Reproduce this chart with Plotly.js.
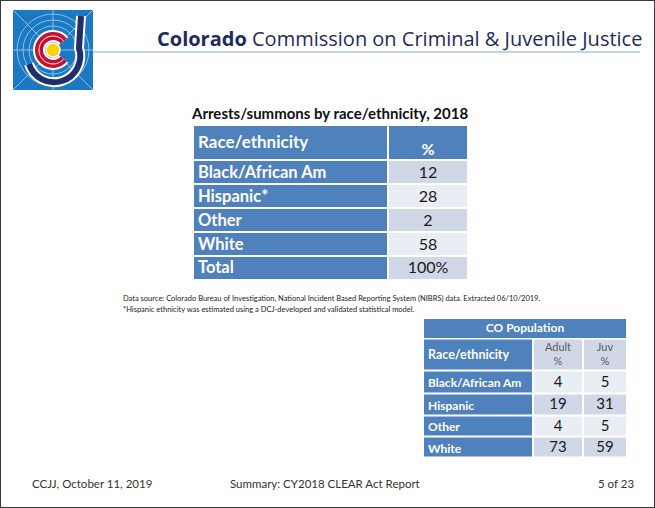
<!DOCTYPE html>
<html><head><meta charset="utf-8">
<script src="https://cdn.plot.ly/plotly-3.0.1.min.js"></script>
<style>html,body{margin:0;padding:0;background:#fff;} #chart{width:655px;height:508px;}</style>
</head><body><div id="chart"></div>
<script>
// ---- data ----
const arrestTitle = 'Arrests/summons by race/ethnicity, 2018';
const arrestHeaders = ['Race/ethnicity', '%'];
const arrestCategories = ['Black/African Am', 'Hispanic*', 'Other', 'White', 'Total'];
const arrestPercents = [12, 28, 2, 58, 100];

const popTitle = 'CO Population';
const popHeaders = ['Race/ethnicity', 'Adult<br>%', 'Juv<br>%'];
const popCategories = ['Black/African Am', 'Hispanic', 'Other', 'White'];
const popAdult = [4, 19, 4, 73];
const popJuv = [5, 31, 5, 59];

// ---- styling / geometry (page pixels) ----
const W = 655, H = 508;
const px = x => x / W;
const py = y => 1 - y / H;
const BLUE = '#4F81BD', DARK = '#D0D8E8', LIGHT = '#E9EDF4';
const FONT = 'Lato, "Open Sans", sans-serif';
const b = s => '<b>' + s + '</b>';
const cum = (start, arr) => arr.reduce((acc, v) => (acc.push(acc[acc.length - 1] + v), acc), [start]);
const mids = e => e.slice(0, -1).map((v, i) => (v + e[i + 1]) / 2);
const SCALE = [[0, BLUE], [0.5, DARK], [1, LIGHT]];

function grid(xEdges, yEdges, z) {
  return {type: 'heatmap', x: xEdges, y: yEdges, z, zmin: 0, zmax: 2, colorscale: SCALE,
          showscale: false, xgap: 2, ygap: 2, hoverinfo: 'skip', zsmooth: false};
}
function txt(x, y, text, pos, size, color, weightless) {
  return {type: 'scatter', mode: 'text', x, y, text, textposition: pos, hoverinfo: 'skip',
          cliponaxis: false, textfont: {family: FONT, size, color}};
}

// Table 1
const t1x = cum(193, [195, 80]);
const t1y = cum(125, [35, 24, 24, 24, 24, 23.5]);
const t1z = [[0, 0]].concat(arrestCategories.map((_, i) => [0, i % 2 ? 2 : 1]));
const t1mx = mids(t1x), t1my = mids(t1y);
const arrestValueText = arrestPercents.map((v, i) => i === arrestPercents.length - 1 ? v + '%' : String(v));
const rowsY1 = t1my.slice(1).map(v => v + 1.5);

// Table 2
const t2x = cum(423, [110, 50, 44]);
const t2titleY = cum(318, [20.5]);
const t2y = cum(338.5, [32, 22.5, 22, 21.5, 21]);
const t2z = [[0, 1, 1]].concat(popCategories.map((_, i) => [0, i % 2 ? 1 : 2, i % 2 ? 1 : 2]));
const t2mx = mids(t2x), t2my = mids(t2y);

const data = [
  grid(t1x, t1y, t1z),
  grid([t2x[0], t2x[t2x.length - 1]], t2titleY, [[0]]),
  grid(t2x, t2y, t2z),
  // table 1 texts
  txt([t1x[0] + 5], [t1my[0] + 1], [b(arrestHeaders[0])], 'middle right', 17, 'white'),
  txt([t1mx[1]], [t1my[0] + 8], [b(arrestHeaders[1])], 'middle center', 16, 'white'),
  txt(arrestCategories.map(() => t1x[0] + 5), rowsY1, arrestCategories.map(b), 'middle right', 16.5, 'white'),
  txt(arrestCategories.map(() => t1mx[1]), rowsY1, arrestValueText, 'middle center', 16, '#1a1a1a'),
  // table 2 texts
  txt([(t2x[0] + t2x[t2x.length - 1]) / 2], [mids(t2titleY)[0] + 1], [b(popTitle)], 'middle center', 12, 'white'),
  txt([t2x[0] + 5], [t2my[0] + 1], [b(popHeaders[0])], 'middle right', 12.5, 'white'),
  txt([t2mx[1], t2mx[2]], [t2my[0] + 1, t2my[0] + 1], [popHeaders[1], popHeaders[2]], 'middle center', 11, '#595959'),
  txt(popCategories.map(() => t2x[0] + 5), t2my.slice(1).map(v => v + 2.5), popCategories.map(b), 'middle right', 12, 'white'),
  txt(popCategories.map(() => t2mx[1]), t2my.slice(1).map(v => v + 1), popAdult.map(String), 'middle center', 15, '#1a1a1a'),
  txt(popCategories.map(() => t2mx[2]), t2my.slice(1).map(v => v + 1), popJuv.map(String), 'middle center', 15, '#1a1a1a')
];

const logoSvg = "<svg xmlns='http://www.w3.org/2000/svg' viewBox='0 0 80 80' width='80' height='80'>" +
  "<rect width='80' height='80' fill='#1B78C2'/>" +
  "<g stroke='#A6D0F0' stroke-width='0.8' fill='none'>" +
  "<line x1='0' y1='0' x2='80' y2='80'/><line x1='80' y1='0' x2='0' y2='80'/>" +
  "<line x1='0' y1='40' x2='80' y2='40'/><line x1='40' y1='0' x2='40' y2='80'/>" +
  "<circle cx='40' cy='40' r='24'/><circle cx='40' cy='40' r='30'/><circle cx='40' cy='40' r='36'/></g>" +
  "<path d='M68,6 L66,38 A26,26 0 0 1 16,54' stroke='white' stroke-width='10' fill='none'/>" +
  "<path d='M68,6 L66,38 A26,26 0 0 1 16,54' stroke='#1F2F6E' stroke-width='6' fill='none'/>" +
  "<path d='M50.7,31 A14,14 0 1 0 50.7,49' stroke='white' stroke-width='12' fill='none'/>" +
  "<path d='M50.7,31 A14,14 0 1 0 50.7,49' stroke='#C8102E' stroke-width='8' fill='none'/>" +
  "<path d='M50.7,31 A14,14 0 1 0 50.7,49' stroke='white' stroke-width='1' fill='none'/>" +
  "<circle cx='40' cy='40' r='7' fill='#FFD200' stroke='white' stroke-width='1.5'/>" +
  "</svg>";

const ann = (text, x, y, opts) => Object.assign({
  text, x: px(x), y: py(y), xref: 'paper', yref: 'paper', showarrow: false,
  xanchor: 'left', yanchor: 'middle', font: {family: FONT, size: 11.5, color: '#333'}
}, opts || {});

const hiddenAxis = {visible: false, showgrid: false, zeroline: false, fixedrange: true};
const layout = {
  width: W, height: H,
  margin: {l: 0, r: 0, t: 0, b: 0},
  paper_bgcolor: 'white', plot_bgcolor: 'rgba(0,0,0,0)',
  showlegend: false,
  xaxis: Object.assign({range: [0, W]}, hiddenAxis),
  yaxis: Object.assign({range: [H, 0]}, hiddenAxis),
  images: [{
    source: 'data:image/svg+xml;charset=utf-8,' + encodeURIComponent(logoSvg),
    xref: 'paper', yref: 'paper', x: px(13), y: py(10), sizex: px(80), sizey: 80 / H,
    xanchor: 'left', yanchor: 'top', sizing: 'stretch', layer: 'above'
  }],
  shapes: [
    {type: 'rect', xref: 'paper', yref: 'paper', x0: 0, x1: 1, y0: 0, y1: 1, line: {color: '#3a3a3a', width: 2}},
    {type: 'line', xref: 'paper', yref: 'paper', x0: px(93), x1: px(640), y0: py(52), y1: py(52), line: {color: '#A9C8E4', width: 1.5}}
  ],
  annotations: [
    ann('<b>Colorado</b> Commission on Criminal &amp; Juvenile Justice', 155, 39,
        {font: {family: '"Open Sans", sans-serif', size: 20, color: '#1F2B5B'}}),
    ann(b(arrestTitle), 330, 113,
        {xanchor: 'center', font: {family: FONT, size: 15, color: '#111'}}),
    ann('Data source: Colorado Bureau of Investigation, National Incident Based Reporting System (NIBRS) data. Extracted 06/10/2019.', 121, 298,
        {font: {family: FONT, size: 7.5, color: '#222'}}),
    ann('*Hispanic ethnicity was estimated using a DCJ-developed and validated statistical model.', 121, 309,
        {font: {family: FONT, size: 7.5, color: '#222'}}),
    ann('CCJJ, October 11, 2019', 30, 483),
    ann('Summary: CY2018 CLEAR Act Report', 228, 483),
    ann('5 of 23', 636, 483, {xanchor: 'right'})
  ]
};

Plotly.newPlot('chart', data, layout, {displayModeBar: false, staticPlot: true});
</script>
</body></html>
